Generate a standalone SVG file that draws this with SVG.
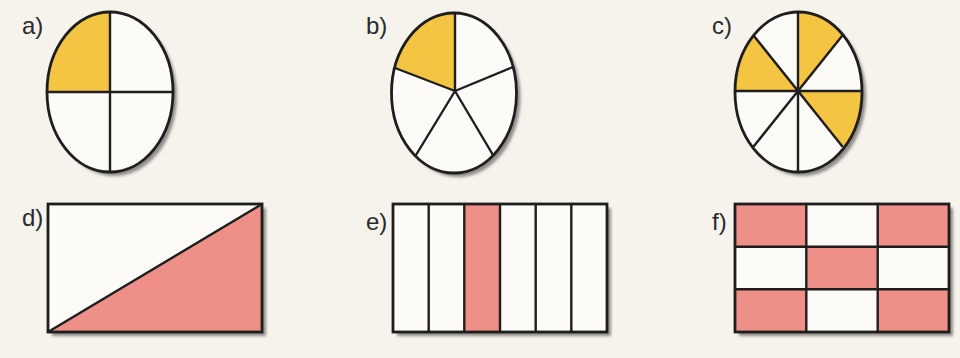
<svg xmlns="http://www.w3.org/2000/svg" width="960" height="358" viewBox="0 0 960 358">
<defs>
<filter id="sh" x="-10%" y="-10%" width="130%" height="130%"><feGaussianBlur stdDeviation="1.5"/></filter>
<clipPath id="ca"><ellipse cx="110" cy="92" rx="63" ry="80"/></clipPath>
<clipPath id="cb"><ellipse cx="454" cy="93" rx="62.5" ry="80"/></clipPath>
<clipPath id="cc"><ellipse cx="798.5" cy="92" rx="63.5" ry="80"/></clipPath>
</defs>
<style>
.bg{fill:#f6f3ed}
.shadow{fill:#8f8c89;filter:url(#sh)}
.blank{fill:#fdfbf7}
.yel{fill:#f4c443}
.pink{fill:#ee8f88}
.ln{stroke:#1e1e1e;stroke-width:2.4;fill:none;stroke-linecap:round}
.out{stroke:#1e1e1e;stroke-width:2.8;fill:none}
.lbl{font-family:"Liberation Sans",Arial,sans-serif;font-size:24px;fill:#2a2a2a}
</style>
<rect class="bg" x="0" y="0" width="960" height="358"/>

<g id="fig-a">
<text class="lbl" x="22" y="34">a)</text>
<ellipse class="shadow" cx="114" cy="96" rx="63" ry="80"/>
<ellipse class="blank" cx="110" cy="92" rx="63" ry="80"/>
<rect class="yel" x="40" y="5" width="70" height="87" clip-path="url(#ca)"/>
<line class="ln" x1="47" y1="92" x2="173" y2="92"/>
<line class="ln" x1="110" y1="12" x2="110" y2="172"/>
<ellipse class="out" cx="110" cy="92" rx="63" ry="80"/>
</g>

<g id="fig-b">
<text class="lbl" x="366" y="34">b)</text>
<ellipse class="shadow" cx="458" cy="97" rx="62.5" ry="80"/>
<ellipse class="blank" cx="454" cy="93" rx="62.5" ry="80"/>
<polygon class="yel" points="455,91 455,5 380,5 380,74 394.8,68" clip-path="url(#cb)"/>
<g class="ln">
<line x1="455" y1="91" x2="455" y2="13"/>
<line x1="455" y1="91" x2="513" y2="67"/>
<line x1="455" y1="91" x2="493" y2="155"/>
<line x1="455" y1="91" x2="416" y2="155"/>
<line x1="455" y1="91" x2="395" y2="68"/>
</g>
<ellipse class="out" cx="454" cy="93" rx="62.5" ry="80"/>
</g>

<g id="fig-c">
<text class="lbl" x="712" y="34">c)</text>
<ellipse class="shadow" cx="802.5" cy="96" rx="63.5" ry="80"/>
<ellipse class="blank" cx="798.5" cy="92" rx="63.5" ry="80"/>
<g clip-path="url(#cc)">
<polygon class="yel" points="798,91 798,-20 886,-19"/>
<polygon class="yel" points="798,91 700,91 700,-19 710,-19"/>
<polygon class="yel" points="798,91 900,91 900,201 886,201"/>
</g>
<g class="ln">
<line x1="798" y1="12" x2="798" y2="172"/>
<line x1="735" y1="91" x2="862" y2="91"/>
<line x1="754" y1="36" x2="842" y2="146"/>
<line x1="842" y1="36" x2="754" y2="146"/>
</g>
<ellipse class="out" cx="798.5" cy="92" rx="63.5" ry="80"/>
</g>

<g id="fig-d">
<text class="lbl" x="22" y="226">d)</text>
<rect class="shadow" x="52" y="208" width="214" height="128"/>
<rect class="blank" x="48" y="204" width="214" height="128"/>
<polygon class="pink" points="48,332 262,204 262,332"/>
<line class="ln" x1="48" y1="332" x2="262" y2="204"/>
<rect class="out" x="48" y="204" width="214" height="128"/>
</g>

<g id="fig-e">
<text class="lbl" x="366" y="230">e)</text>
<rect class="shadow" x="397" y="208" width="214" height="128"/>
<rect class="blank" x="393" y="204" width="214" height="128"/>
<rect class="pink" x="464.3" y="204" width="35.7" height="128"/>
<g class="ln">
<line x1="428.7" y1="204" x2="428.7" y2="332"/>
<line x1="464.3" y1="204" x2="464.3" y2="332"/>
<line x1="500" y1="204" x2="500" y2="332"/>
<line x1="535.7" y1="204" x2="535.7" y2="332"/>
<line x1="571.3" y1="204" x2="571.3" y2="332"/>
</g>
<rect class="out" x="393" y="204" width="214" height="128"/>
</g>

<g id="fig-f">
<text class="lbl" x="712" y="230">f)</text>
<rect class="shadow" x="739" y="208" width="214" height="128"/>
<rect class="blank" x="735" y="204" width="214" height="128"/>
<rect class="pink" x="735" y="204" width="71.3" height="42.7"/>
<rect class="pink" x="877.7" y="204" width="71.3" height="42.7"/>
<rect class="pink" x="806.3" y="246.7" width="71.4" height="42.6"/>
<rect class="pink" x="735" y="289.3" width="71.3" height="42.7"/>
<rect class="pink" x="877.7" y="289.3" width="71.3" height="42.7"/>
<g class="ln">
<line x1="806.3" y1="204" x2="806.3" y2="332"/>
<line x1="877.7" y1="204" x2="877.7" y2="332"/>
<line x1="735" y1="246.7" x2="949" y2="246.7"/>
<line x1="735" y1="289.3" x2="949" y2="289.3"/>
</g>
<rect class="out" x="735" y="204" width="214" height="128"/>
</g>
</svg>
